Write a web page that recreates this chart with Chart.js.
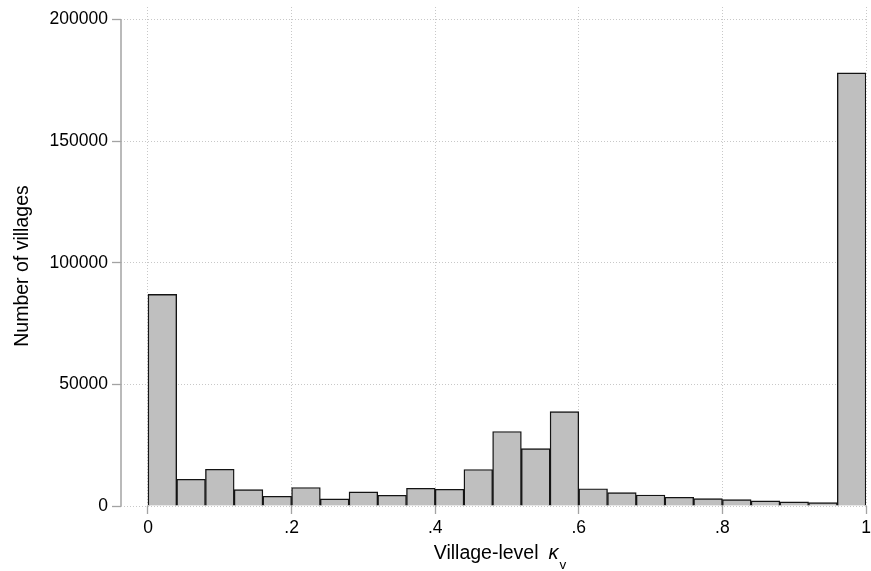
<!DOCTYPE html>
<html>
<head>
<meta charset="utf-8">
<script src="https://cdn.jsdelivr.net/npm/chart.js@4/dist/chart.umd.min.js"></script>
<style>
    html, body { margin: 0; padding: 0; background: #fff; }
    #wrap { width: 871px; height: 571px; }
</style>
</head>
<body>
<div id="wrap"><canvas id="histCanvas"></canvas></div>
<script>
// histogram bins (width .04) and counts
const binCenters = [0.02, 0.06, 0.10, 0.14, 0.18, 0.22, 0.26, 0.30, 0.34, 0.38, 0.42, 0.46, 0.50,
    0.54, 0.58, 0.62, 0.66, 0.70, 0.74, 0.78, 0.82, 0.86, 0.90, 0.94, 0.98];
const villageCounts = [87000, 11000, 15100, 6700, 4000, 7600, 2900, 5800, 4400, 7300, 6900, 15000, 30600,
    23600, 38800, 7100, 5500, 4500, 3600, 3000, 2600, 2100, 1700, 1400, 178000];

const xTicks = [0, 0.2, 0.4, 0.6, 0.8, 1];
const xTickLabels = ["0", ".2", ".4", ".6", ".8", "1"];
const yTicks = [0, 50000, 100000, 150000, 200000];

const yTitle = "Number of villages";
const xTitle = "Village-level";
const xTitleSymbol = "κ";
const xTitleSub = "v";

const FONT = "'Liberation Sans', Arial, Helvetica, sans-serif";
const AXIS_GRAY = "#a3a3a3";
const GRID_GRAY = "#c8c8c8";

// stata-style axis line + titles
const titlesPlugin = {
    id: "titles",
    afterDraw(chart) {
        const ctx = chart.ctx;
        const y = chart.scales.y;
        const area = chart.chartArea;

        // y axis line only over the tick range
        ctx.save();
        ctx.strokeStyle = AXIS_GRAY;
        ctx.lineWidth = 1.5;
        ctx.beginPath();
        ctx.moveTo(area.left, y.getPixelForValue(yTicks[yTicks.length - 1]));
        ctx.lineTo(area.left, y.getPixelForValue(0));
        ctx.stroke();
        ctx.restore();

        // y title
        ctx.save();
        ctx.fillStyle = "#000";
        ctx.font = "19.5px " + FONT;
        ctx.textAlign = "center";
        ctx.textBaseline = "middle";
        ctx.translate(23, 266);
        ctx.rotate(-Math.PI / 2);
        ctx.fillText(yTitle, 0, 0);
        ctx.restore();

        // x title with italic kappa and subscript v
        ctx.save();
        ctx.fillStyle = "#000";
        ctx.textBaseline = "alphabetic";
        ctx.textAlign = "left";
        ctx.font = "19.5px " + FONT;
        const w1 = ctx.measureText(xTitle).width;
        ctx.font = "italic 20px " + FONT;
        const w2 = ctx.measureText(xTitleSymbol).width;
        ctx.font = "13.5px " + FONT;
        const w3 = ctx.measureText(xTitleSub).width;
        const gap = 10;
        const total = w1 + gap + w2 + 1 + w3;
        let x0 = 500 - total / 2;
        const base = 559;
        ctx.font = "19.5px " + FONT;
        ctx.fillText(xTitle, x0, base);
        x0 += w1 + gap;
        ctx.font = "italic 20px " + FONT;
        ctx.fillText(xTitleSymbol, x0, base);
        x0 += w2 + 1;
        ctx.font = "13.5px " + FONT;
        ctx.fillText(xTitleSub, x0, base + 10);
        ctx.restore();
    },
};

const ctx = document.getElementById("histCanvas");

new Chart(ctx, {
    type: "bar",
    data: {
        datasets: [
            {
                data: binCenters.map((c, i) => ({ x: c, y: villageCounts[i] })),
                backgroundColor: "#bfbfbf",
                borderColor: "#141414",
                borderWidth: 1.4,
                barPercentage: 1,
                categoryPercentage: 1,
            },
        ],
    },
    options: {
        responsive: true,
        maintainAspectRatio: false,
        animation: false,
        devicePixelRatio: 1,
        layout: { padding: { top: 7, right: 5, left: 0, bottom: 0 } },
        scales: {
            x: {
                type: "linear",
                offset: false,
                min: -0.0376,
                max: 1,
                afterBuildTicks(s) {
                    s.ticks = xTicks.map((v) => ({ value: v }));
                },
                afterFit(s) {
                    s.height = 65;
                    s.paddingLeft = 0;
                    s.paddingRight = 0;
                },
                grid: {
                    offset: false,
                    color: GRID_GRAY,
                    lineWidth: 1,
                    tickLength: 8,
                    tickColor: AXIS_GRAY,
                    tickWidth: 1.3,
                },
                border: { display: false, dash: [1, 2] },
                ticks: {
                    autoSkip: false,
                    maxRotation: 0,
                    padding: 4,
                    color: "#000",
                    font: { family: FONT, size: 17.5 },
                    callback: (v) => xTickLabels[xTicks.indexOf(v)],
                },
            },
            y: {
                min: 0,
                max: 205100,
                afterBuildTicks(s) {
                    s.ticks = yTicks.map((v) => ({ value: v }));
                },
                afterFit(s) {
                    s.width = 121;
                    s.paddingTop = 0;
                    s.paddingBottom = 0;
                },
                grid: {
                    color: GRID_GRAY,
                    lineWidth: 1,
                    tickLength: 9,
                    tickColor: AXIS_GRAY,
                    tickWidth: 1.3,
                },
                border: { display: false, dash: [1, 2] },
                ticks: {
                    autoSkip: false,
                    padding: 4,
                    color: "#000",
                    font: { family: FONT, size: 17.5 },
                    callback: (v) => String(v),
                },
            },
        },
        plugins: {
            legend: { display: false },
            tooltip: { enabled: false },
        },
    },
    plugins: [titlesPlugin],
});
</script>
</body>
</html>
